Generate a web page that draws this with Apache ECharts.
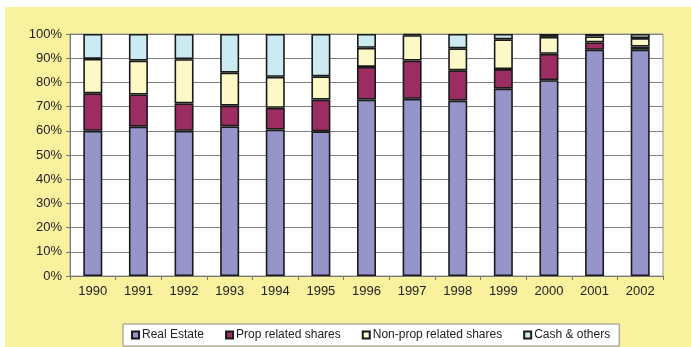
<!DOCTYPE html>
<html>
<head>
<meta charset="utf-8">
<script src="https://cdn.jsdelivr.net/npm/echarts@6/dist/echarts.min.js"></script>
<style>
  html, body { margin: 0; padding: 0; background: #ffffff; }
  #wrap { position: relative; width: 691px; height: 347px; overflow: hidden; background: #ffffff; }
  #panel { position: absolute; left: 5px; top: 7px; right: 0; bottom: 0; background: #F8F19D; }
  #chart { position: absolute; left: 0; top: 0; width: 691px; height: 347px; }
</style>
</head>
<body>
<div id="wrap">
  <div id="panel"></div>
  <div id="chart"></div>
</div>
<script>
// Portfolio composition by year (percent of total)
const years = ['1990', '1991', '1992', '1993', '1994', '1995', '1996', '1997', '1998', '1999', '2000', '2001', '2002'];
const realEstate = [60, 61.7, 60, 61.8, 60.5, 59.8, 72.9, 73.2, 72.5, 77.4, 80.9, 93.5, 93.5];
const propShares = [15.5, 13.3, 11.3, 8.6, 9, 13.1, 13.5, 15.8, 12.5, 8.1, 10.9, 3, 1.3];
const nonPropShares = [14.2, 14, 18.3, 13.6, 12.8, 9.6, 7.9, 10.5, 9.1, 12.3, 7, 2.5, 3.5];
const cashOthers = [10.3, 11, 10.4, 16, 17.7, 17.5, 5.7, 0.5, 5.9, 2.2, 1.2, 1, 1.7];
const yTicks = ['0%', '10%', '20%', '30%', '40%', '50%', '60%', '70%', '80%', '90%', '100%'];

const seriesNames = ['Real Estate', 'Prop related shares', 'Non-prop related shares', 'Cash & others'];
const seriesData = [realEstate, propShares, nonPropShares, cashOthers];
const seriesColors = ['#9595CA', '#9B2D62', '#FDF8C8', '#CCEAF2'];

const font = '"Liberation Sans", Arial, sans-serif';
const chart = echarts.init(document.getElementById('chart'), null, { renderer: 'canvas' });

chart.setOption({
  backgroundColor: 'transparent',
  animation: false,
  grid: {
    left: 70, right: 28, top: 34, bottom: 71,
    show: true, backgroundColor: '#ffffff', borderColor: '#9a9a9a', borderWidth: 1
  },
  legend: {
    data: seriesNames,
    left: 123, top: 324,
    orient: 'horizontal',
    backgroundColor: '#ffffff',
    borderColor: '#8a8a8a', borderWidth: 1,
    padding: [5, 9, 5, 8],
    itemWidth: 7, itemHeight: 7, itemGap: 21,
    icon: 'rect',
    textStyle: { fontFamily: font, fontSize: 12, color: '#222', padding: [0, 0, 0, -2] }
  },
  xAxis: {
    type: 'category',
    data: years,
    axisLine: { show: true, lineStyle: { color: '#777', width: 1 } },
    axisTick: { show: true, alignWithLabel: false, length: 4, lineStyle: { color: '#777' } },
    axisLabel: { fontFamily: font, fontSize: 13, color: '#222', margin: 9 },
    splitLine: { show: false }
  },
  yAxis: {
    type: 'value',
    min: 0, max: 100, interval: 10,
    axisLine: { show: true, lineStyle: { color: '#777', width: 1 } },
    axisTick: { show: true, inside: false, length: 4, lineStyle: { color: '#777' } },
    axisLabel: {
      fontFamily: font, fontSize: 13, color: '#222', margin: 8,
      formatter: function (v) { return yTicks[Math.round(v / 10)]; }
    },
    splitLine: { show: true, lineStyle: { color: '#808080', width: 1 } }
  },
  series: seriesData.map(function (d, i) {
    return {
      name: seriesNames[i],
      type: 'bar',
      stack: 'total',
      data: d,
      barWidth: 19,
      itemStyle: { color: seriesColors[i], borderColor: '#1a1a1a', borderWidth: 1.6 },
      emphasis: { disabled: true }
    };
  })
});
</script>
</body>
</html>
